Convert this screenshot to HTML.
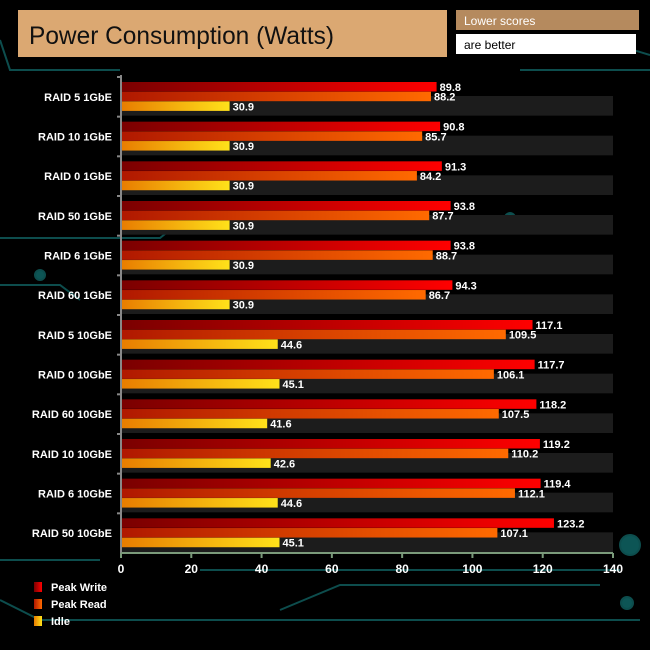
<!DOCTYPE html>
<html><head><meta charset="utf-8"><style>
body{margin:0;background:#000;}
svg{display:block;font-family:"Liberation Sans",sans-serif;}
</style></head><body>
<svg id="c" width="650" height="650">
<g stroke="#0d4d4d" stroke-width="2" fill="none">
<path d="M0 40 L10 70 L120 70"/><path d="M0 238 L160 238 L170 230"/><path d="M0 285 L60 285 L80 300"/>
<path d="M0 560 L100 560"/><path d="M0 600 L40 620 L640 620"/><path d="M280 610 L340 585 L600 585"/>
<path d="M520 70 L650 70"/><path d="M600 40 L650 55"/><path d="M480 420 L600 420"/>
<path d="M200 570 L620 570"/>
<circle cx="630" cy="545" r="10" fill="#0d5555"/><circle cx="627" cy="603" r="6" fill="#0d5555"/>
<circle cx="510" cy="218" r="5" fill="#0d5555"/><circle cx="40" cy="275" r="5" fill="#0d5555"/>
</g>
<rect x="18" y="10" width="429" height="47" fill="#dba872"/>
<text x="29" y="44" font-size="25" fill="#111" textLength="305" lengthAdjust="spacingAndGlyphs">Power Consumption (Watts)</text>
<rect x="456" y="10" width="183" height="20" fill="#b58a5e"/>
<text x="464" y="25" font-size="12" fill="#fff">Lower scores</text>
<rect x="456" y="34" width="180" height="20" fill="#fff"/>
<text x="464" y="49" font-size="12" fill="#000">are better</text>
<defs>
<linearGradient id="gw"><stop offset="0" stop-color="#7a0000"/><stop offset="1" stop-color="#ff0000"/></linearGradient>
<linearGradient id="gr"><stop offset="0" stop-color="#b01800"/><stop offset="1" stop-color="#ff6a00"/></linearGradient>
<linearGradient id="gi"><stop offset="0" stop-color="#e87c00"/><stop offset="1" stop-color="#ffe21a"/></linearGradient>
</defs>
<g id="plot"></g>
</svg>
<script>
const categories=["RAID 5 1GbE","RAID 10 1GbE","RAID 0 1GbE","RAID 50 1GbE","RAID 6 1GbE","RAID 60 1GbE","RAID 5 10GbE","RAID 0 10GbE","RAID 60 10GbE","RAID 10 10GbE","RAID 6 10GbE","RAID 50 10GbE"];
const peakWrite=[89.8,90.8,91.3,93.8,93.8,94.3,117.1,117.7,118.2,119.2,119.4,123.2];
const peakRead=[88.2,85.7,84.2,87.7,88.7,86.7,109.5,106.1,107.5,110.2,112.1,107.1];
const idle=[30.9,30.9,30.9,30.9,30.9,30.9,44.6,45.1,41.6,42.6,44.6,45.1];
const xTicks=[0,20,40,60,80,100,120,140];
const seriesNames=["Peak Write","Peak Read","Idle"];

const NS="http://www.w3.org/2000/svg";
const g=document.getElementById('plot');
const x0=121,x1=613,yTop=77,yBot=553,xMax=140;
const bandH=(yBot-yTop)/categories.length;
const xs=v=>x0+v/xMax*(x1-x0);
function mk(t,a){const e=document.createElementNS(NS,t);for(const k in a)e.setAttribute(k,a[k]);g.appendChild(e);return e;}
const series=[[peakWrite,'url(#gw)'],[peakRead,'url(#gr)'],[idle,'url(#gi)']];
categories.forEach((c,i)=>{
  const by=yTop+i*bandH;
  const st=mk('rect',{x:x0,y:by+19,width:x1-x0,height:bandH-20,fill:'#1c1c1c'});
  
  
  const lb=mk('text',{x:112,y:by+bandH/2+4,'font-size':11,'font-weight':'bold',fill:'#fff','text-anchor':'end'});
  lb.textContent=c;
  
  
  const tk=mk('line',{x1:x0-4,x2:x0,y1:by,y2:by,stroke:'#888','stroke-width':2});
  
  
  series.forEach(([arr,fill],s)=>{
    const y=by+5+s*9.7,v=arr[i];
    const r=mk('rect',{x:x0,y:y,width:xs(v)-x0,height:9.5,fill:fill});
    
    
    const t=mk('text',{x:xs(v)+3,y:y+9,'font-size':11,'font-weight':'bold',fill:'#fff'});
    t.textContent=v.toFixed(1);
    
    
  });
});
const ya=mk('line',{x1:x0,x2:x0,y1:yTop-2,y2:yBot,stroke:'#888','stroke-width':2});


const xa=mk('line',{x1:x0,x2:x1,y1:yBot,y2:yBot,stroke:'#7a9a7a','stroke-width':2});


xTicks.forEach(v=>{
  const l=mk('line',{x1:xs(v),x2:xs(v),y1:yBot,y2:yBot+5,stroke:'#7a9a7a','stroke-width':2});
  
  
  const t=mk('text',{x:xs(v),y:yBot+20,'font-size':12,'font-weight':'bold',fill:'#fff','text-anchor':'middle'});
  t.textContent=v;
  
  
});
seriesNames.forEach((n,s)=>{
  const y=582+s*17;
  const r=mk('rect',{x:34,y:y,width:8,height:10,fill:series[s][1]});
  
  
  const t=mk('text',{x:51,y:y+9,'font-size':11,'font-weight':'bold',fill:'#fff'});
  t.textContent=n;
  
  
});
</script>
</body></html>
